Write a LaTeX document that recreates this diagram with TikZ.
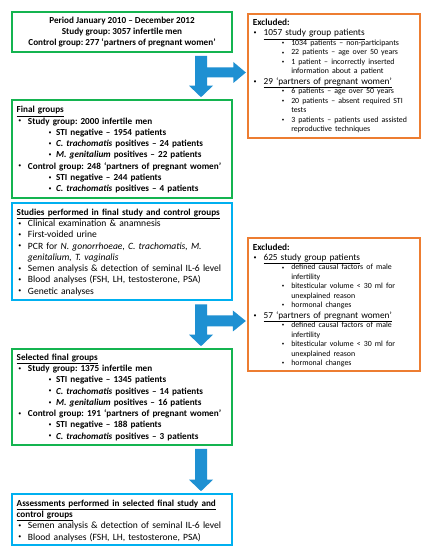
\documentclass[tikz,border=0pt]{standalone}
\usepackage{fontspec}
\setmainfont{Carlito}
\usetikzlibrary{calc}
\frenchspacing
\definecolor{gcol}{RGB}{20,180,80}
\definecolor{ocol}{RGB}{237,125,49}
\definecolor{bcol}{RGB}{0,176,240}
\definecolor{acol}{RGB}{30,144,210}
\newcommand\fm{\fontsize{9.6}{11.3}\selectfont}
\newcommand\fmb{\fontsize{9.2}{11.3}\selectfont\bfseries}
\newcommand\fmx{\fontsize{9.3}{10.5}\selectfont}
\newcommand\fsx{\fontsize{7.9}{9.5}\selectfont}
\newcommand\hd[1]{\underline{#1}}
\newcommand\sbul{\raisebox{1.2bp}{\fontsize{6}{6}\selectfont\mdseries\textbullet}}
\newcommand\ssbul{\raisebox{0.9bp}{\fontsize{5}{5}\selectfont\mdseries\textbullet}}
% level-1 and level-2 bullets for the left boxes
\newcommand\la[1]{\par\noindent\hangindent=11.3bp\hangafter=1\hbox to 11.3bp{\hspace{1.7bp}\sbul\hfil}#1}
\newcommand\lb[1]{\par\noindent\hangindent=39.5bp\hangafter=1\hbox to 39.5bp{\hspace{32bp}\sbul\hfil}#1}
% bullets for the excluded boxes
\newcommand\xa[1]{\par\fmx\noindent\hangindent=10.7bp\hangafter=1\hbox to 10.7bp{\hspace{0.7bp}\sbul\hfil}#1}
\newcommand\xb[1]{\par\fsx\noindent\hangindent=38.4bp\hangafter=1\hbox to 38.4bp{\hspace{29bp}\ssbul\hfil}#1}
\begin{document}
\begin{tikzpicture}[x=1bp,y=1bp,
  frame/.style={draw=#1, line width=1.6bp, fill=white, inner sep=0pt, rectangle},
  txt/.style={anchor=north west, inner sep=0pt, align=left, text width=#1},
  arrowfill/.style={fill=acol, draw=none}]
\useasboundingbox (0,0) rectangle (428,550);
\fill[white] (0,0) rectangle (428,550);
% boxes
\node[frame=gcol, minimum width=220bp, minimum height=40bp]  (start)   at (122,518) {};
\node[frame=ocol, minimum width=172bp, minimum height=124bp, line width=1.3bp] (ex1) at (334,474) {};
\node[frame=gcol, minimum width=220bp, minimum height=98bp]  (final)   at (122,401) {};
\node[frame=bcol, minimum width=220bp, minimum height=97bp]  (studies) at (122,298.5) {};
\node[frame=ocol, minimum width=172bp, minimum height=133bp, line width=1.3bp] (ex2) at (334,245.5) {};
\node[frame=gcol, minimum width=220bp, minimum height=96bp]  (sel)     at (122,153) {};
\node[frame=bcol, minimum width=220bp, minimum height=51bp]  (assess)  at (122,30.5) {};
\coordinate (ax) at (201,0);
% arrows
\fill[arrowfill] let \p1=($(ax |- start.south)+(0,-3)$), \p2=($(ax |- final.north)+(0,2)$),
  \p3=($(ex1.west)+(-1.5,0)$), \p4=(0,477.5) in
  (\x1-6bp,\y1) -- (\x1+6bp,\y1) -- (\x1+6bp,\y4+5bp) -- (\x3-12.5bp,\y4+5bp) -- (\x3-12.5bp,\y4+10.5bp)
  -- (\x3,\y4) -- (\x3-12.5bp,\y4-10.5bp) -- (\x3-12.5bp,\y4-5bp) -- (\x1+6bp,\y4-5bp)
  -- (\x1+6bp,\y2+11.5bp) -- (\x1+12bp,\y2+11.5bp) -- (\x1,\y2) -- (\x1-12bp,\y2+11.5bp)
  -- (\x1-6bp,\y2+11.5bp) -- cycle;
\fill[arrowfill] let \p1=($(ax |- studies.south)+(0,-3.5)$), \p2=($(ax |- sel.north)+(0,2)$),
  \p3=($(ex2.west)+(-1.5,0)$), \p4=(0,229) in
  (\x1-6bp,\y1) -- (\x1+6bp,\y1) -- (\x1+6bp,\y4+5.5bp) -- (\x3-13bp,\y4+5.5bp) -- (\x3-13bp,\y4+10.5bp)
  -- (\x3,\y4) -- (\x3-13bp,\y4-10.5bp) -- (\x3-13bp,\y4-5.5bp) -- (\x1+6bp,\y4-5.5bp)
  -- (\x1+6bp,\y2+11.5bp) -- (\x1+12bp,\y2+11.5bp) -- (\x1,\y2) -- (\x1-12bp,\y2+11.5bp)
  -- (\x1-6bp,\y2+11.5bp) -- cycle;
\fill[arrowfill] let \p1=($(ax |- sel.south)+(0,-3)$), \p2=($(ax |- assess.north)+(0,2)$) in
  (\x1-6bp,\y1) -- (\x1+6bp,\y1) -- (\x1+6bp,\y2+11.5bp) -- (\x1+12bp,\y2+11.5bp) -- (\x1,\y2)
  -- (\x1-12bp,\y2+11.5bp) -- (\x1-6bp,\y2+11.5bp) -- cycle;
% texts
\node[inner sep=0pt, align=center, font=\fmb] (tstart) at (start.center)
  {Period January 2010 – December 2012\\Study group: 3057 infertile men\\Control group: 277 ‘partners of pregnant women’};
\node[txt=212bp, font=\fmb] (tfinal) at ($(final.north west)+(5.3,-7)$) {%
\hd{Final groups}
\la{Study group: 2000 infertile men}
\lb{STI negative – 1954 patients}
\lb{\textit{C. trachomatis} positives – 24 patients}
\lb{\textit{M. genitalium} positives – 22 patients}
\la{Control group: 248 ‘partners of pregnant women’}
\lb{STI negative – 244 patients}
\lb{\textit{C. trachomatis} positives – 4 patients}\par};
\node[txt=212bp, font=\fm] (tstudies) at ($(studies.north west)+(5.3,-6.5)$) {%
\hd{\fmb Studies performed in final study and control groups}
\la{Clinical examination \& anamnesis}
\la{First-voided urine}
\la{PCR for \textit{N. gonorrhoeae, C. trachomatis, M.}\newline \textit{genitalium, T. vaginalis}}
\la{Semen analysis \& detection of seminal IL-6 level}
\la{Blood analyses (FSH, LH, testosterone, PSA)}
\la{Genetic analyses}\par};
\node[txt=212bp, font=\fmb] (tsel) at ($(sel.north west)+(5.3,-5.5)$) {%
\hd{Selected final groups}
\la{Study group: 1375 infertile men}
\lb{STI negative – 1345 patients}
\lb{\textit{C. trachomatis} positives – 14 patients}
\lb{\textit{M. genitalium} positives – 16 patients}
\la{Control group: 191 ‘partners of pregnant women’}
\lb{STI negative – 188 patients}
\lb{\textit{C. trachomatis} positives – 3 patients}\par};
\node[txt=212bp, font=\fm] (tassess) at ($(assess.north west)+(5.3,-6.5)$) {%
\hd{\fmb Assessments performed in selected final study and}\newline
\hd{\fmb control groups}
\la{Semen analysis \& detection of seminal IL-6 level}
\la{Blood analyses (FSH, LH, testosterone, PSA)}\par};
\node[txt=165bp, font=\fmx] (tex1) at ($(ex1.north west)+(5.3,-5.5)$) {%
\textbf{Excluded:}
\xa{\hd{1057 study group patients}}
\xb{1034 patients – non-participants}
\xb{22 patients – age over 50 years}
\xb{1 patient – incorrectly inserted\newline information about a patient}
\xa{\hd{29 ‘partners of pregnant women’}}
\xb{6 patients – age over 50 years}
\xb{20 patients – absent required STI\newline tests}
\xb{3 patients – patients used assisted\newline reproductive techniques}\par};
\node[txt=165bp, font=\fmx] (tex2) at ($(ex2.north west)+(5.3,-6)$) {%
\textbf{Excluded:}
\xa{\hd{625 study group patients}}
\xb{defined causal factors of male\newline infertility}
\xb{bitesticular volume < 30 ml for\newline unexplained reason}
\xb{hormonal changes}
\xa{\hd{57 ‘partners of pregnant women’}}
\xb{defined causal factors of male\newline infertility}
\xb{bitesticular volume < 30 ml for\newline unexplained reason}
\xb{hormonal changes}\par};
\end{tikzpicture}
\end{document}
